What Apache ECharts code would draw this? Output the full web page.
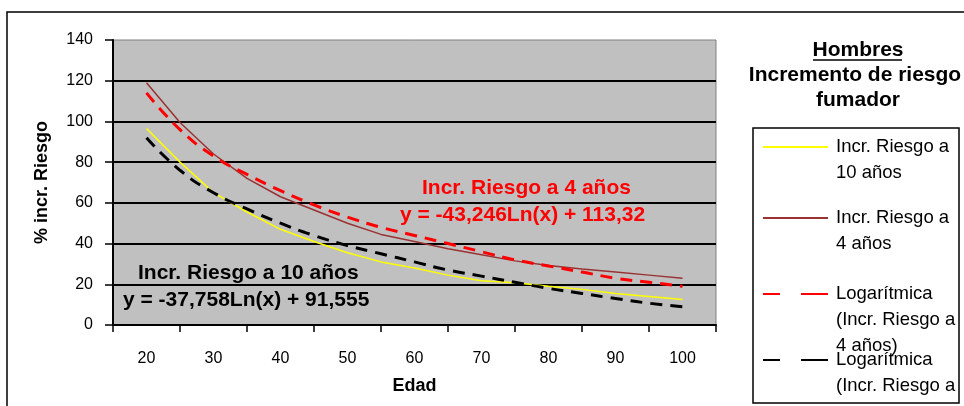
<!DOCTYPE html>
<html>
<head>
<meta charset="utf-8">
<script src="https://cdn.jsdelivr.net/npm/echarts@6/dist/echarts.min.js"></script>
<style>
html, body { margin: 0; padding: 0; background: #fff; }
#chart { width: 964px; height: 406px; }
</style>
</head>
<body>
<div id="chart"></div>
<script>
// edades (eje X)
const edades = [20, 25, 30, 35, 40, 45, 50, 55, 60, 65, 70, 75, 80, 85, 90, 95, 100];
// % incremento de riesgo
const riesgo10 = [96.5, 80, 65, 55.5, 47, 41, 35.5, 31, 28, 24.5, 21.7, 20.7, 19, 17.5, 15.5, 14, 12.5];
const riesgo4 = [119, 99.5, 84, 72, 63, 56.5, 50, 44.5, 41, 37.5, 34.5, 31.5, 29.2, 27.5, 26, 24.5, 23];
// lineas de tendencia logaritmicas
const logRiesgo4 = [114, 96, 83, 74, 66, 59, 53, 48, 44, 40, 36, 32, 29, 26, 23, 21, 19];
const logRiesgo10 = [92, 76, 65, 57, 50, 44, 39, 35, 31, 27, 24, 21, 18, 15.5, 13, 10.7, 9];
// marcas del eje X
const xTicks = [15, 25, 35, 45, 55, 65, 75, 85, 95, 105];
const xLabels = [20, 30, 40, 50, 60, 70, 80, 90, 100];

const FONT = '"Liberation Sans", Arial, sans-serif';

const names = [
    'Incr. Riesgo a 10 años',
    'Incr. Riesgo a 4 años',
    'Logarítmica (Incr. Riesgo a 4 años)',
    'Logarítmica (Incr. Riesgo a 10 años)'
];
const legendText = {};
legendText[names[0]] = ['Incr. Riesgo a', '10 años'];
legendText[names[1]] = ['Incr. Riesgo a', '4 años'];
legendText[names[2]] = ['Logarítmica', '(Incr. Riesgo a', '4 años)'];
legendText[names[3]] = ['Logarítmica', '(Incr. Riesgo a', '10 años)'];
const legendY = [147, 218, 294, 360];
const LH = 26;

function pares(vals) {
    return edades.map(function (e, i) { return [e, vals[i]]; });
}

// una leyenda por serie, con la primera linea alineada al icono
const legends = names.map(function (n, i) {
    const lines = legendText[n];
    const lg = {
        data: [n],
        left: 762,
        top: legendY[i] - (2 * lines.length - 1) * LH / 2,
        padding: 0,
        itemWidth: 65,
        itemHeight: 10,
        itemStyle: { opacity: 0 },
        formatter: function (name) {
            const l = legendText[name];
            return new Array(l.length - 1).fill('').concat(l).join('\n');
        },
        textStyle: { fontFamily: FONT, fontSize: 18.5, color: '#000', lineHeight: LH, padding: [0, 0, 0, 3] }
    };
    if (i >= 2) lg.lineStyle = { type: [17, 21, 27, 10] };
    return lg;
});

const chart = echarts.init(document.getElementById('chart'));
const option = {
    animation: false,
    backgroundColor: '#fff',
    grid: {
        left: 113, top: 40, right: 248, bottom: 81,
        show: true, backgroundColor: '#C0C0C0', borderColor: '#808080', borderWidth: 1
    },
    legend: legends,
    xAxis: {
        type: 'value', min: 15, max: 105,
        name: 'Edad', nameLocation: 'middle', nameGap: 52,
        nameTextStyle: { fontFamily: FONT, fontSize: 18, fontWeight: 'bold', color: '#000' },
        axisLine: { lineStyle: { color: '#000', width: 2 } },
        axisTick: { customValues: xTicks, length: 7, lineStyle: { color: '#000', width: 1.5 } },
        axisLabel: { customValues: xLabels, margin: 26, fontFamily: FONT, fontSize: 16, color: '#000' },
        splitLine: { show: false }
    },
    yAxis: {
        type: 'value', min: 0, max: 140, interval: 20,
        name: '% incr. Riesgo', nameLocation: 'middle', nameGap: 62,
        nameTextStyle: { fontFamily: FONT, fontSize: 18, fontWeight: 'bold', color: '#000' },
        axisLine: { show: true, lineStyle: { color: '#000', width: 2 } },
        axisTick: { show: true, length: 8, lineStyle: { color: '#000', width: 1.5 } },
        axisLabel: { margin: 20, fontFamily: FONT, fontSize: 16, color: '#000' },
        splitLine: { show: true, showMaxLine: false, lineStyle: { color: '#000', width: 2 } }
    },
    series: [
        { name: names[0], type: 'line', symbol: 'none', data: pares(riesgo10),
          lineStyle: { color: '#FFFF00', width: 1.5 }, itemStyle: { color: '#FFFF00' } },
        { name: names[1], type: 'line', symbol: 'none', data: pares(riesgo4),
          lineStyle: { color: '#993333', width: 1.5 }, itemStyle: { color: '#993333' } },
        { name: names[2], type: 'line', symbol: 'none', smooth: true, data: pares(logRiesgo4),
          lineStyle: { color: '#FF0000', width: 3, type: [12, 8] }, itemStyle: { color: '#FF0000' } },
        { name: names[3], type: 'line', symbol: 'none', smooth: true, data: pares(logRiesgo10),
          lineStyle: { color: '#000000', width: 3, type: [12, 8] }, itemStyle: { color: '#000000' } }
    ],
    graphic: [
        // marco exterior
        { type: 'rect', z: -10, shape: { x: 7, y: 12, width: 1000, height: 500 },
          style: { fill: 'none', stroke: '#000', lineWidth: 1.5 } },
        // caja de la leyenda
        { type: 'rect', z: 0, shape: { x: 753, y: 128, width: 206, height: 275 },
          style: { fill: '#fff', stroke: '#000', lineWidth: 1.5 } },
        // la caja recorta el texto que sobra abajo
        { type: 'rect', z: 100, shape: { x: 752, y: 404, width: 210, height: 10 },
          style: { fill: '#fff' } },
        { type: 'text', x: 858, y: 50, style: { text: 'Hombres', font: 'bold 21px ' + FONT, fill: '#000', align: 'center', verticalAlign: 'middle' } },
        { type: 'line', shape: { x1: 813, y1: 60, x2: 902, y2: 60 }, style: { stroke: '#000', lineWidth: 1.5 } },
        { type: 'text', x: 855, y: 75, style: { text: 'Incremento de riesgo', font: 'bold 21px ' + FONT, fill: '#000', align: 'center', verticalAlign: 'middle' } },
        { type: 'text', x: 858, y: 100, style: { text: 'fumador', font: 'bold 21px ' + FONT, fill: '#000', align: 'center', verticalAlign: 'middle' } },
        // etiquetas de las tendencias
        { type: 'text', x: 422, y: 188, z: 10, style: { text: 'Incr. Riesgo a 4 años', font: 'bold 21px ' + FONT, fill: '#FF0000', align: 'left', verticalAlign: 'middle' } },
        { type: 'text', x: 400, y: 215, z: 10, style: { text: 'y = -43,246Ln(x) + 113,32', font: 'bold 21px ' + FONT, fill: '#FF0000', align: 'left', verticalAlign: 'middle' } },
        { type: 'text', x: 138, y: 273, z: 10, style: { text: 'Incr. Riesgo a 10 años', font: 'bold 21px ' + FONT, fill: '#000', align: 'left', verticalAlign: 'middle' } },
        { type: 'text', x: 123, y: 300, z: 10, style: { text: 'y = -37,758Ln(x) + 91,555', font: 'bold 21px ' + FONT, fill: '#000', align: 'left', verticalAlign: 'middle' } }
    ]
};
chart.setOption(option);
</script>
</body>
</html>
